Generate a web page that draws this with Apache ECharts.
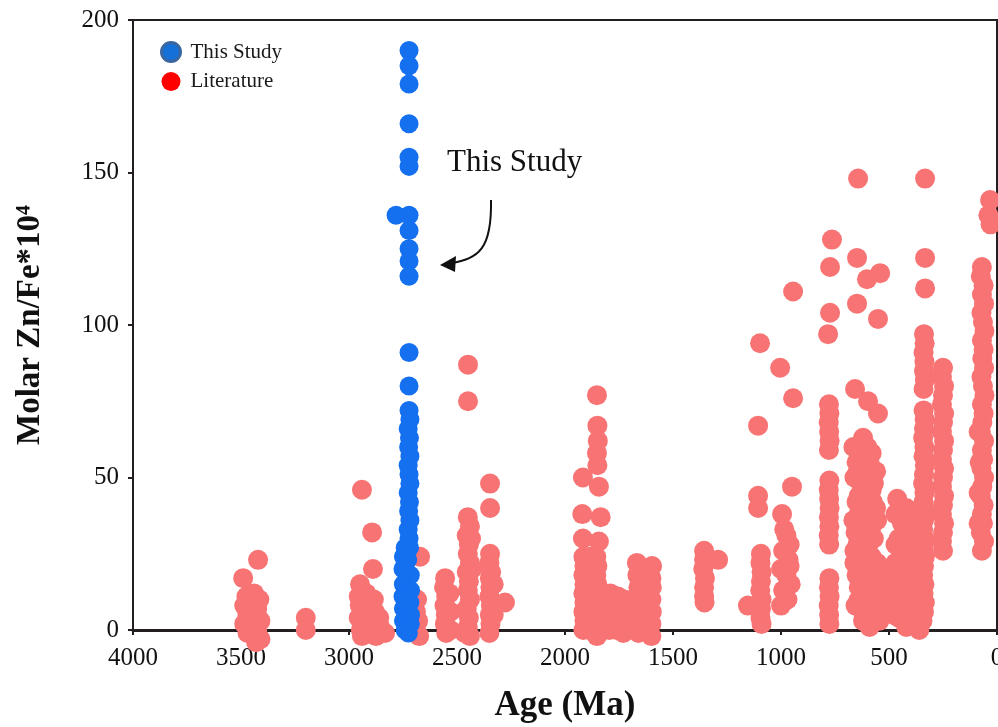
<!DOCTYPE html>
<html><head><meta charset="utf-8">
<script src="https://cdn.jsdelivr.net/npm/echarts/dist/echarts.min.js"></script>
<style>html,body{margin:0;padding:0;background:#fff}#c{width:998px;height:727px}</style>
</head><body><div id="c"></div>
<script>
// ---- data: [age (Ma), molar Zn/Fe*10^4] ----
const thisStudy = [[2722,190],[2722,185],[2722,179],[2722,166],[2722,155],[2722,152],[2782,136],[2722,136],[2722,131],[2722,125],[2722,121],[2722,116],[2722,91],[2722,80],[2722,72],[2718,69],[2726,66],[2720,63],[2724,60],[2718,57],[2726,54],[2722,51],[2718,48],[2726,45],[2720,42],[2724,39],[2718,36],[2726,33],[2722,30],[2740,27],[2720,27],[2748,24],[2728,23],[2750,20],[2735,19],[2716,18],[2748,15],[2732,14],[2715,13],[2750,11],[2738,10],[2718,9],[2748,7],[2730,6],[2715,5],[2748,3],[2735,2],[2716,2],[2740,0],[2725,-1]];

const litArchean = [[3490,17],[3421,23],[3475,11],[3440,12],[3415,10],[3485,8],[3455,8],[3425,7],[3470,5],[3440,4],[3410,3],[3485,2],[3455,1],[3425,0],[3470,-1],[3440,-2],[3410,-3],[3430,-4],[3200,4],[3200,0]];

const litNeoarchean = [[2940,46],[2893,32],[2889,20],[2949,15],[2955,11],[2920,12],[2885,10],[2950,8],[2915,7],[2880,6],[2860,4],[2955,4],[2925,3],[2895,2],[2856,1],[2945,0],[2910,-1],[2875,-2],[2833,-1],[2940,-2],[2671,24],[2685,10],[2690,6],[2680,3],[2690,0],[2675,-2],
[2555,17],[2560,14],[2550,11],[2558,8],[2552,5],[2556,2],[2550,-1],[2535,12],[2530,6],[2530,0],
[2449,87],[2449,75],[2450,37],[2440,34],[2455,31],[2445,28],[2450,25],[2440,22],[2455,19],[2445,16],[2450,13],[2440,10],[2455,7],[2445,4],[2450,1],[2440,-2],[2465,-1],[2430,20],[2435,30],
[2347,48],[2347,40],[2347,25],[2350,22],[2342,19],[2348,17],[2345,14],[2350,11],[2343,8],[2348,5],[2345,2],[2350,-1],[2330,15],[2330,5],[2278,9]];

const litPaleoproterozoic = [[1852,77],[1850,67],[1848,62],[1852,58],[1850,54],[1917,50],[1843,47],[1920,38],[1835,37],[1917,30],[1843,29],
[1915,24],[1885,24],[1855,24],[1910,21],[1880,21],[1850,21],[1915,18],[1885,18],[1855,18],[1910,15],[1880,15],[1850,15],[1915,12],[1885,12],[1855,12],[1910,9],[1880,9],[1850,9],[1915,6],[1885,6],[1855,6],[1910,3],[1880,3],[1850,3],[1915,0],[1885,0],[1855,0],[1852,-2],
[1790,12],[1755,11],[1725,10],[1795,8],[1760,7],[1730,6],[1790,4],[1755,3],[1725,2],[1795,0],[1760,0],[1730,-1],
[1667,22],[1597,21],[1665,18],[1630,17],[1600,17],[1660,14],[1628,13],[1598,14],[1665,10],[1632,9],[1600,10],[1660,6],[1630,5],[1598,6],[1665,2],[1630,1],[1600,2],[1660,-1],[1600,-2]];

const litMesoproterozoic = [[1356,26],[1356,23],[1360,20],[1352,17],[1356,14],[1356,11],[1354,9],[1291,23],
[1097,94],[1004,86],[944,76],[944,111],[1106,67],[949,47],[1106,44],[1106,40],[995,38],
[1093,25],[1095,22],[1090,19],[1093,16],[1096,13],[1090,10],[1093,7],[1095,4],[1090,2],[1153,8],
[975,31],[960,28],[990,26],[965,23],[1000,20],[975,18],[955,15],[990,13],[970,10],[1000,8],[960,21],[985,33]];

const litNeoproterozoic = [[782,97],[773,104],[773,119],[764,128],[648,122],[648,107],[643,148],[602,115],[541,117],[551,102],
[778,74],[776,71],[779,68],[777,65],[775,62],[778,59],[776,49],[779,46],[777,43],[775,40],[778,37],[776,34],[779,31],[777,28],[776,17],[778,14],[775,11],[779,8],[777,5],[776,2],
[657,79],[597,75],[551,71],[620,63],[600,60],[580,58],[650,55],[620,54],[560,52],[660,50],[630,48],[580,46],[600,44],[650,42],[560,40],[640,38],[610,36],[580,34],[655,32],[625,30],[595,28],[660,26],[630,24],[600,22],[570,20],[650,18],[615,16],[585,14],[560,12],[640,10],[600,8],[570,6],[620,3],[590,1],[545,10],[545,3],
[665,60],[635,58],[610,57],[590,55],[645,52],[600,50],[570,48],[615,46],[640,44],[575,42],[625,40],[590,38],[555,36],[665,36],[635,34],[600,32],[570,30],[645,28],[610,26],[580,24],[555,22],[660,22],[625,20],[595,18],[565,16],[640,14],[605,12],[580,10],[655,8],[620,6],[545,18],[530,8],[520,14]];

const litPhanerozoic = [[333,148],[333,122],[333,112],
[462,43],[420,40],[390,38],[440,35],[410,33],[380,30],[350,28],[445,26],[415,24],[385,22],[355,20],[450,18],[440,16],[410,14],[380,12],[350,10],[440,8],[410,6],[375,4],[345,3],[420,1],[360,0],[470,28],[480,15],[480,5],
[470,38],[430,37],[400,35],[360,32],[455,30],[425,29],[395,27],[365,25],[470,22],[440,21],[405,19],[370,17],[460,12],[425,11],[395,9],[365,7],[455,4],[430,3],[395,2],[510,10],[500,20],
[338,97],[335,94],[340,91],[336,88],[338,85],[334,82],[340,79],[340,72],[335,69],[338,66],[342,63],[336,60],[340,57],[334,54],[338,51],[342,48],[336,45],[340,42],[334,39],[338,36],[342,33],[336,30],[340,27],[334,24],[338,21],[342,18],[336,15],[340,12],[334,9],[338,6],
[250,86],[255,83],[245,80],[250,77],[255,74],[245,71],[250,68],[255,65],[245,62],[250,59],[255,56],[245,53],[250,50],[255,47],[245,44],[250,41],[255,38],[245,35],[250,32],[255,29],[250,26],
[32,141],[40,136],[30,133],
[70,119],[75,116],[62,113],[70,110],[60,107],[72,104],[65,101],[58,98],[70,95],[62,92],[68,89],[60,86],[72,83],[65,80],[58,77],[70,74],[62,71],[68,68],[75,65],[60,62],[70,59],[64,56],[72,53],[60,50],[68,47],[75,44],[62,41],[70,38],[65,35],[75,32],[60,29],[70,26],[80,55],[85,45],[85,35],[85,65]];

const literature = [].concat(litArchean, litNeoarchean, litPaleoproterozoic, litMesoproterozoic, litNeoproterozoic, litPhanerozoic);

const xRange = [0, 4000], xStep = 500;
const yRange = [0, 200], yStep = 50;

const serif = "'Liberation Serif','Times New Roman',serif";
const chart = echarts.init(document.getElementById('c'), null, {renderer: 'canvas'});
chart.setOption({
  animation: false,
  backgroundColor: '#fff',
  grid: {left: 133, right: 1, top: 20, bottom: 97, containLabel: false, outerBoundsMode: 'none',
         show: true, borderColor: '#231f20', borderWidth: 2},
  legend: {
    orient: 'vertical', left: 155, top: 36, itemWidth: 19, itemHeight: 19, itemGap: 8,
    icon: 'circle',
    textStyle: {fontFamily: serif, fontSize: 21, color: '#1a1a1a', padding: [0,0,0,5]},
    data: [
      {name: 'This Study', itemStyle: {color: '#1570d8', borderColor: '#3b66a0', borderWidth: 3}},
      {name: 'Literature', itemStyle: {color: '#ff0000'}}
    ]
  },
  xAxis: {
    type: 'value', inverse: true, min: xRange[0], max: xRange[1], interval: xStep,
    name: 'Age (Ma)', nameLocation: 'middle', nameGap: 58,
    nameTextStyle: {fontFamily: serif, fontSize: 35, fontWeight: 'bold', color: '#111'},
    axisLine: {onZero: false, lineStyle: {color: '#231f20', width: 3}},
    axisTick: {show: true, length: 5, lineStyle: {color: '#231f20', width: 2}},
    axisLabel: {fontFamily: serif, fontSize: 25, color: '#111', margin: 16, formatter: v => String(v)},
    splitLine: {show: false}
  },
  yAxis: {
    type: 'value', min: yRange[0], max: yRange[1], interval: yStep, position: 'left',
    name: 'Molar Zn/Fe*10\u2074', nameLocation: 'middle', nameGap: 86,
    nameTextStyle: {fontFamily: serif, fontSize: 33, fontWeight: 'bold', color: '#111'},
    axisLine: {show: true, onZero: false, lineStyle: {color: '#231f20', width: 2}},
    axisTick: {show: true, length: 5, lineStyle: {color: '#231f20', width: 2}},
    axisLabel: {fontFamily: serif, fontSize: 25, color: '#111', margin: 14, formatter: v => String(v)},
    splitLine: {show: false}
  },
  series: [
    {name: 'Literature', type: 'scatter', data: literature, symbolSize: 20, clip: false, z: 2,
     itemStyle: {color: '#f87373', opacity: 1}},
    {name: 'This Study', type: 'scatter', data: thisStudy, symbolSize: 19, clip: false, z: 3,
     itemStyle: {color: '#1570f0', opacity: 1}}
  ],
  graphic: [
    {type: 'text', left: 447, top: 147, style: {text: 'This Study', font: '31px ' + serif, fill: '#111'}},
    {type: 'bezierCurve', shape: {x1: 491, y1: 200, cpx1: 492, cpy1: 250, cpx2: 478, cpy2: 258, x2: 452, y2: 263},
     style: {stroke: '#111', lineWidth: 2, fill: 'none'}},
    {type: 'polygon', shape: {points: [[440,265],[456,256],[455,272]]}, style: {fill: '#111'}}
  ]
});
</script></body></html>
